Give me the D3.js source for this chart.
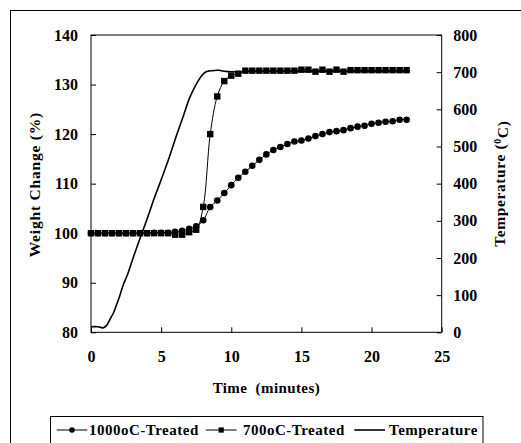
<!DOCTYPE html>
<html>
<head>
<meta charset="utf-8">
<script src="https://cdn.jsdelivr.net/npm/d3@7"></script>
<style>
  body { margin: 0; background: #fff; }
  svg text { font-family: "Liberation Serif", "Times New Roman", serif; font-weight: bold; fill: #000; }
</style>
</head>
<body>
<svg id="chart" width="521" height="443"></svg>
<script>
// sampling times (minutes) of the two weight series
var times = d3.range(0, 46).map(function(i) { return i * 0.5; });

// 1000oC-Treated weight change (%)
var treated1000 = [100.0, 100.0, 100.0, 100.0, 100.0, 100.0, 100.0, 100.0, 100.0,
    100.1, 100.1, 100.1, 100.3, 100.5, 100.9, 101.4, 102.6, 105.3, 106.6, 108.1,
    109.7, 111.2, 112.4, 113.6, 114.8, 115.9, 116.8, 117.4, 118.0, 118.5, 118.7,
    119.1, 119.6, 120.0, 120.4, 120.6, 120.8, 121.2, 121.5, 121.7, 122.1, 122.3,
    122.5, 122.6, 122.9, 122.9];

// 700oC-Treated weight change (%)
var treated700 = [100.0, 100.0, 100.0, 100.0, 100.0, 100.0, 100.0, 100.0, 100.0,
    100.0, 100.0, 100.0, 99.7, 99.7, 100.2, 100.7, 105.3, 120.0, 127.6, 130.7,
    131.8, 132.2, 132.8, 132.8, 132.8, 132.8, 132.8, 132.8, 132.8, 132.8, 133.0,
    133.0, 132.6, 133.0, 132.6, 133.0, 132.6, 132.9, 132.9, 132.9, 132.9, 132.9,
    132.9, 132.9, 132.9, 132.9];

// furnace temperature (oC), right axis
var tempTimes = [0, 0.5, 0.85, 1.1, 1.35, 1.6, 1.8, 2.0, 2.3, 2.6, 3.0, 3.3, 3.6, 4.0,
    4.5, 4.9, 5.5, 6.1, 6.6, 7.0, 7.3, 7.6, 7.9, 8.2, 8.6, 9.1, 9.6, 10, 12, 14, 16, 18, 20, 22.5];
var tempValues = [15, 15, 12, 18, 35, 52, 72, 92, 128, 155, 200, 232, 264, 305,
    360, 400, 462, 530, 584, 628, 653, 674, 691, 701, 704, 705, 702, 701, 702, 702, 702, 702, 702, 702];

var xTicks = [0, 5, 10, 15, 20, 25];
var yTicks = [80, 90, 100, 110, 120, 130, 140];
var y2Ticks = [0, 100, 200, 300, 400, 500, 600, 700, 800];

var svg = d3.select('#chart');
var plotL = 91, plotR = 441.7, plotT = 35, plotB = 332.3;

var x = d3.scaleLinear().domain([0, 25]).range([plotL, plotR]);
var y = d3.scaleLinear().domain([80, 140]).range([plotB, plotT]);
var y2 = d3.scaleLinear().domain([0, 800]).range([plotB, plotT]);

// outer frame
svg.append('rect')
    .attr('x', 10.5).attr('y', 10.5)
    .attr('width', 530).attr('height', 450)
    .attr('fill', 'none').attr('stroke', '#000').attr('stroke-width', 1);

// plot frame
svg.append('rect')
    .attr('x', plotL).attr('y', plotT)
    .attr('width', plotR - plotL).attr('height', plotB - plotT)
    .attr('fill', 'none').attr('stroke', '#000').attr('stroke-width', 1);

function styleAxis(g) {
    g.select('.domain').remove();
    g.selectAll('.tick line').attr('stroke', '#000');
    g.selectAll('.tick text').style('font-size', '16px');
}

svg.append('g')
    .attr('transform', 'translate(0,' + plotB + ')')
    .call(d3.axisBottom(x).tickValues(xTicks).tickSize(-5).tickPadding(18))
    .call(styleAxis);

svg.append('g')
    .attr('transform', 'translate(' + plotL + ',0)')
    .call(d3.axisLeft(y).tickValues(yTicks).tickSize(-5).tickPadding(13))
    .call(styleAxis);

svg.append('g')
    .attr('transform', 'translate(' + plotR + ',0)')
    .call(d3.axisRight(y2).tickValues(y2Ticks).tickSize(-5).tickPadding(11.5))
    .call(styleAxis);

// axis titles
svg.append('text')
    .attr('transform', 'translate(35,' + ((plotT + plotB) / 2 + 1) + ') rotate(-90)')
    .attr('text-anchor', 'middle').attr('dy', '0.35em')
    .style('font-size', '15.5px')
    .style('letter-spacing', '0.8px')
    .text('Weight Change (%)');

var t2 = svg.append('text')
    .attr('transform', 'translate(500,' + ((plotT + plotB) / 2) + ') rotate(-90)')
    .attr('text-anchor', 'middle').attr('dy', '0.35em')
    .style('font-size', '15.5px')
    .style('letter-spacing', '0.6px');
t2.append('tspan').text('Temperature (');
t2.append('tspan').attr('dy', '-0.45em').style('font-size', '10px').text('0');
t2.append('tspan').attr('dy', '0.45em').text('C)');

svg.append('text')
    .attr('x', (plotL + plotR) / 2).attr('y', 393)
    .attr('text-anchor', 'middle')
    .style('font-size', '15px')
    .style('letter-spacing', '0.4px')
    .style('white-space', 'pre')
    .text('Time  (minutes)');

// temperature
var tempLine = d3.line()
    .curve(d3.curveCatmullRom.alpha(0.5))
    .x(function(d, i) { return x(tempTimes[i]); })
    .y(function(d) { return y2(d); });

svg.append('path')
    .attr('d', tempLine(tempValues))
    .attr('fill', 'none').attr('stroke', '#000').attr('stroke-width', 1.6);

// weight series
var wLine = d3.line()
    .curve(d3.curveCatmullRom.alpha(0.5))
    .x(function(d, i) { return x(times[i]); })
    .y(function(d) { return y(d); });

svg.append('path')
    .attr('d', wLine(treated700))
    .attr('fill', 'none').attr('stroke', '#000').attr('stroke-width', 1);

svg.append('path')
    .attr('d', wLine(treated1000))
    .attr('fill', 'none').attr('stroke', '#000').attr('stroke-width', 1);

svg.selectAll('.sq')
    .data(treated700)
    .enter().append('rect')
    .attr('class', 'sq')
    .attr('x', function(d, i) { return x(times[i]) - 3.2; })
    .attr('y', function(d) { return y(d) - 3.2; })
    .attr('width', 6.4).attr('height', 6.4)
    .attr('fill', '#000');

svg.selectAll('.dot')
    .data(treated1000)
    .enter().append('circle')
    .attr('class', 'dot')
    .attr('cx', function(d, i) { return x(times[i]); })
    .attr('cy', function(d) { return y(d); })
    .attr('r', 3.3)
    .attr('fill', '#000');

// legend
var legend = svg.append('g');
legend.append('rect')
    .attr('x', 50.5).attr('y', 416.5)
    .attr('width', 432.5).attr('height', 40)
    .attr('fill', 'none').attr('stroke', '#000').attr('stroke-width', 1);

var legendItems = [
    { name: '1000oC-Treated', x1: 56.7, x2: 87.3, text: 89, mark: 'circle' },
    { name: '700oC-Treated', x1: 205.7, x2: 236.7, text: 243, mark: 'square' },
    { name: 'Temperature', x1: 354.3, x2: 385, text: 389, mark: 'none' }
];
var ly = 430;
legendItems.forEach(function(d) {
    legend.append('line')
        .attr('x1', d.x1).attr('x2', d.x2).attr('y1', ly).attr('y2', ly)
        .attr('stroke', '#000').attr('stroke-width', d.mark === 'none' ? 1.6 : 1);
    var mx = (d.x1 + d.x2) / 2;
    if (d.mark === 'circle') {
        legend.append('circle').attr('cx', mx).attr('cy', ly).attr('r', 2.8).attr('fill', '#000');
    } else if (d.mark === 'square') {
        legend.append('rect').attr('x', mx - 2.6).attr('y', ly - 2.6)
            .attr('width', 5.2).attr('height', 5.2).attr('fill', '#000');
    }
    legend.append('text')
        .attr('x', d.text).attr('y', 435)
        .style('font-size', '15px')
        .style('letter-spacing', '0.5px')
        .text(d.name);
});
</script>
</body>
</html>
